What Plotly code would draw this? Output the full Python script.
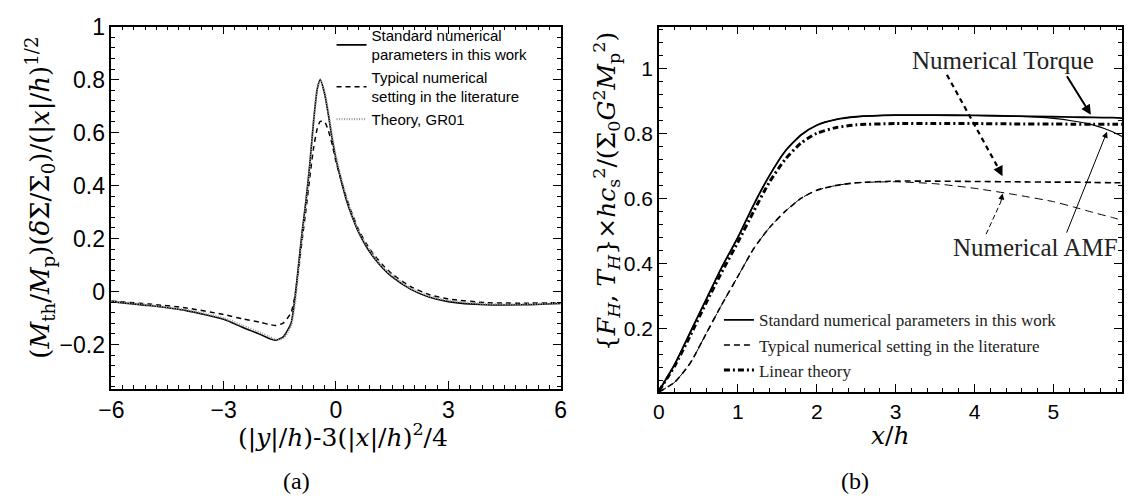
import plotly.graph_objects as go

# ---------------- Panel (a) data ----------------
xa = [-6, -5, -4, -3, -2.5, -2, -1.8, -1.6, -1.4, -1.2, -1.1, -1.0, -0.9, -0.8, -0.7, -0.6,
      -0.5, -0.42, -0.3, -0.2, -0.1, 0, 0.1, 0.2, 0.3, 0.4, 0.6, 0.8, 1.0, 1.25, 1.5, 2,
      2.5, 3, 4, 5, 6]
a_standard = [-0.038, -0.053, -0.072, -0.105, -0.135, -0.163, -0.176, -0.184, -0.17, -0.12,
              -0.03, 0.10, 0.23, 0.345, 0.48, 0.64, 0.765, 0.80, 0.745, 0.665, 0.575, 0.50,
              0.44, 0.385, 0.335, 0.295, 0.225, 0.172, 0.13, 0.088, 0.055, 0.008, -0.022,
              -0.038, -0.05, -0.05, -0.045]
a_typical = [-0.036, -0.047, -0.062, -0.087, -0.103, -0.117, -0.124, -0.128, -0.118, -0.08,
             -0.02, 0.085, 0.2, 0.31, 0.43, 0.54, 0.615, 0.642, 0.64, 0.605, 0.555, 0.49,
             0.44, 0.39, 0.345, 0.305, 0.235, 0.183, 0.142, 0.1, 0.066, 0.018, -0.012,
             -0.028, -0.042, -0.044, -0.042]
a_theory = [-0.037, -0.051, -0.069, -0.1, -0.128, -0.157, -0.17, -0.181, -0.176, -0.13,
            -0.05, 0.08, 0.21, 0.335, 0.47, 0.635, 0.765, 0.80, 0.75, 0.675, 0.585, 0.51,
            0.45, 0.395, 0.345, 0.303, 0.232, 0.178, 0.136, 0.093, 0.06, 0.012, -0.018,
            -0.034, -0.047, -0.048, -0.044]
a_xticks = [-6, -3, 0, 3, 6]
a_xticklabels = ["\u22126", "\u22123", "0", "3", "6"]
a_yticks = [-0.2, 0, 0.2, 0.4, 0.6, 0.8, 1]
a_yticklabels = ["\u22120.2", "0", "0.2", "0.4", "0.6", "0.8", "1"]

# ---------------- Panel (b) data ----------------
xb = [0, 0.2, 0.4, 0.6, 0.8, 1.0, 1.2, 1.4, 1.6, 1.8, 2.0, 2.25, 2.5, 3, 3.5, 4, 4.5, 5,
      5.25, 5.5, 5.75, 5.87]
b_std_torque = [0.008, 0.09, 0.19, 0.29, 0.39, 0.48, 0.58, 0.67, 0.745, 0.795, 0.825, 0.843,
                0.851, 0.856, 0.856, 0.855, 0.853, 0.851, 0.85, 0.849, 0.848, 0.847]
b_std_amf = [0.008, 0.09, 0.19, 0.29, 0.39, 0.48, 0.58, 0.67, 0.745, 0.795, 0.825, 0.843,
             0.851, 0.856, 0.856, 0.855, 0.853, 0.846, 0.838, 0.826, 0.805, 0.79]
b_typ_torque = [0.005, 0.035, 0.095, 0.185, 0.275, 0.36, 0.445, 0.51, 0.56, 0.6, 0.625, 0.64,
                0.648, 0.653, 0.653, 0.652, 0.651, 0.65, 0.65, 0.649, 0.648, 0.648]
b_typ_amf = [0.005, 0.035, 0.095, 0.185, 0.275, 0.36, 0.445, 0.51, 0.56, 0.6, 0.625, 0.64,
             0.648, 0.651, 0.645, 0.631, 0.612, 0.59, 0.574, 0.557, 0.541, 0.533]
b_linear = [0.008, 0.085, 0.18, 0.28, 0.375, 0.465, 0.56, 0.65, 0.72, 0.77, 0.80, 0.818,
            0.826, 0.83, 0.83, 0.83, 0.829, 0.829, 0.828, 0.828, 0.828, 0.828]
b_xticks = [0, 1, 2, 3, 4, 5]
b_yticks = [0.2, 0.4, 0.6, 0.8, 1]
b_yticklabels = ["0.2", "0.4", "0.6", "0.8", "1"]

W, H = 1130, 502
SERIF = "Liberation Serif, Times New Roman, serif"
WSERIF = "DejaVu Serif, serif"
SANS = "Liberation Sans, Arial, sans-serif"

fig = go.Figure()

# Panel (a) traces
fig.add_trace(go.Scatter(x=xa, y=a_standard, mode="lines",
                         line=dict(color="black", width=1.6, shape="spline", smoothing=0.6),
                         name="Standard numerical<br>parameters in this work", legend="legend"))
fig.add_trace(go.Scatter(x=xa, y=a_typical, mode="lines",
                         line=dict(color="black", width=1.5, dash="5px,4px", shape="spline", smoothing=0.6),
                         name="Typical numerical<br>setting in the literature", legend="legend"))
fig.add_trace(go.Scatter(x=xa, y=a_theory, mode="lines",
                         line=dict(color="#9a9a9a", width=2.2, dash="1px,1.5px", shape="spline", smoothing=0.6),
                         name="Theory, GR01", legend="legend"))

# Panel (b) traces
fig.add_trace(go.Scatter(x=xb, y=b_std_torque, mode="lines", xaxis="x2", yaxis="y2",
                         line=dict(color="black", width=1.8, shape="spline", smoothing=0.6),
                         name="Standard numerical parameters in this work", legend="legend2"))
fig.add_trace(go.Scatter(x=xb, y=b_std_amf, mode="lines", xaxis="x2", yaxis="y2",
                         line=dict(color="black", width=1.1, shape="spline", smoothing=0.6),
                         showlegend=False))
fig.add_trace(go.Scatter(x=xb, y=b_typ_torque, mode="lines", xaxis="x2", yaxis="y2",
                         line=dict(color="black", width=1.6, dash="6px,4px", shape="spline", smoothing=0.6),
                         name="Typical numerical setting in the literature", legend="legend2"))
fig.add_trace(go.Scatter(x=xb, y=b_typ_amf, mode="lines", xaxis="x2", yaxis="y2",
                         line=dict(color="black", width=1.0, dash="8px,5px", shape="spline", smoothing=0.6),
                         showlegend=False))
fig.add_trace(go.Scatter(x=xb, y=b_linear, mode="lines", xaxis="x2", yaxis="y2",
                         line=dict(color="black", width=3, dash="6px,3px,2px,3px", shape="spline", smoothing=0.6),
                         name="Linear theory", legend="legend2"))

ax_common = dict(showline=True, linecolor="black", linewidth=1.5, mirror="allticks",
                 ticks="inside", ticklen=8, tickwidth=1.2, tickcolor="black",
                 showgrid=False, zeroline=False)


def minor(dt):
    return dict(ticks="inside", ticklen=4, tickwidth=1, tickcolor="black", dtick=dt, tick0=0, showgrid=False)


fig.update_layout(
    width=W, height=H, margin=dict(l=0, r=0, t=0, b=0, pad=0),
    paper_bgcolor="white", plot_bgcolor="white",
    xaxis=dict(domain=[100 / W, 557 / W], range=[-6, 6], tickmode="array", tickvals=a_xticks,
               ticktext=a_xticklabels, tickfont=dict(family=SANS, size=23, color="black"),
               minor=minor(0.3), anchor="y", **ax_common),
    yaxis=dict(domain=[(H - 386) / H, (H - 14) / H], range=[-0.368, 1.0], tickmode="array",
               tickvals=a_yticks, ticktext=a_yticklabels,
               tickfont=dict(family=SANS, size=23, color="black"),
               minor=minor(0.04), anchor="x", **ax_common),
    xaxis2=dict(domain=[657 / W, 1128 / W], range=[0, 5.87], tickmode="array", tickvals=b_xticks,
                tickfont=dict(family=SANS, size=21, color="black"),
                minor=minor(0.2), anchor="y2", **ax_common),
    yaxis2=dict(domain=[(H - 389) / H, (H - 14) / H], range=[0.005, 1.128], tickmode="array",
                tickvals=b_yticks, ticktext=b_yticklabels,
                tickfont=dict(family=SANS, size=21, color="black"),
                minor=minor(0.04), anchor="x2", **ax_common),
    legend=dict(x=324 / W, y=(H - 6) / H, xanchor="left", yanchor="top",
                font=dict(family=SANS, size=15, color="black"), bgcolor="rgba(0,0,0,0)",
                tracegroupgap=2, itemwidth=30),
    legend2=dict(x=718 / W, y=(H - 297) / H, xanchor="left", yanchor="top",
                 font=dict(family=SERIF, size=17, color="#222"), bgcolor="rgba(0,0,0,0)",
                 tracegroupgap=0, itemwidth=30),
    showlegend=True,
)

ann = []
ytitle_font = dict(family=WSERIF, size=26, color="black")
xtitle_font = dict(family=WSERIF, size=25, color="black")
ann.append(dict(xref="paper", yref="paper", x=27 / W, y=(H - 190) / H, showarrow=False, textangle=-90,
                text="(<i>M</i><sub>th</sub>/<i>M</i><sub>p</sub>)(<i>δ</i>Σ/Σ<sub>0</sub>)/(|<i>x</i>|/<i>h</i>)<sup>1/2</sup>",
                font=ytitle_font, xanchor="center", yanchor="middle"))
ann.append(dict(xref="paper", yref="paper", x=336 / W, y=(H - 434) / H, showarrow=False,
                text="(|<i>y</i>|/<i>h</i>)-3(|<i>x</i>|/<i>h</i>)<sup>2</sup>/4",
                font=xtitle_font, xanchor="center", yanchor="middle"))
ann.append(dict(xref="paper", yref="paper", x=604 / W, y=(H - 183) / H, showarrow=False, textangle=-90,
                text="{<i>F</i><sub><i>H</i></sub>, <i>T</i><sub><i>H</i></sub>}×<i>hc</i><sub>s</sub><sup>2</sup>/(Σ<sub>0</sub><i>G</i><sup>2</sup><i>M</i><sub>p</sub><sup>2</sup>)",
                font=dict(family=WSERIF, size=25, color="black"), xanchor="center", yanchor="middle"))
ann.append(dict(xref="paper", yref="paper", x=893 / W, y=(H - 434) / H, showarrow=False,
                text="<i>x</i>/<i>h</i>", font=xtitle_font, xanchor="center", yanchor="middle"))
ann.append(dict(xref="paper", yref="paper", x=288 / W, y=(H - 480) / H, showarrow=False,
                text="(a)", font=dict(family=SERIF, size=24, color="black"), xanchor="center", yanchor="middle"))
ann.append(dict(xref="paper", yref="paper", x=856 / W, y=(H - 480) / H, showarrow=False,
                text="(b)", font=dict(family=SERIF, size=24, color="black"), xanchor="center", yanchor="middle"))

# Panel (b) labels and arrows
lab_font = dict(family=SERIF, size=25, color="#222")
ann.append(dict(xref="x2", yref="y2", x=4.36, y=1.025, text="Numerical Torque", showarrow=False,
                font=lab_font, xanchor="center", yanchor="middle"))
ann.append(dict(xref="x2", yref="y2", x=4.77, y=0.45, text="Numerical AMF", showarrow=False,
                font=lab_font, xanchor="center", yanchor="middle"))
# solid arrow to numerical torque (standard)
ann.append(dict(xref="x2", yref="y2", axref="x2", ayref="y2", x=5.475, y=0.857, ax=5.16, ay=0.98,
                text="", showarrow=True, arrowhead=2, arrowsize=1, arrowwidth=2, arrowcolor="black"))
# dashed arrow to numerical torque (typical): head part
ann.append(dict(xref="x2", yref="y2", axref="x2", ayref="y2", x=4.355, y=0.668, ax=4.31, ay=0.69,
                text="", showarrow=True, arrowhead=2, arrowsize=1, arrowwidth=2, arrowcolor="black"))
# thin solid arrow to numerical AMF (standard)
ann.append(dict(xref="x2", yref="y2", axref="x2", ayref="y2", x=5.68, y=0.805, ax=5.16, ay=0.49,
                text="", showarrow=True, arrowhead=2, arrowsize=1.2, arrowwidth=1, arrowcolor="black"))
# thin dashed arrow to numerical AMF (typical): head part
ann.append(dict(xref="x2", yref="y2", axref="x2", ayref="y2", x=4.355, y=0.615, ax=4.33, ay=0.585,
                text="", showarrow=True, arrowhead=2, arrowsize=1.2, arrowwidth=1, arrowcolor="black"))

shapes = [
    dict(type="line", xref="x2", yref="y2", x0=3.65, y0=0.98, x1=4.32, y1=0.685,
         line=dict(color="black", width=2.2, dash="5px,4px")),
    dict(type="line", xref="x2", yref="y2", x0=4.147, y0=0.49, x1=4.335, y1=0.59,
         line=dict(color="black", width=1, dash="5px,3px")),
]

fig.update_layout(annotations=ann, shapes=shapes)

fig.write_html("out.html")
